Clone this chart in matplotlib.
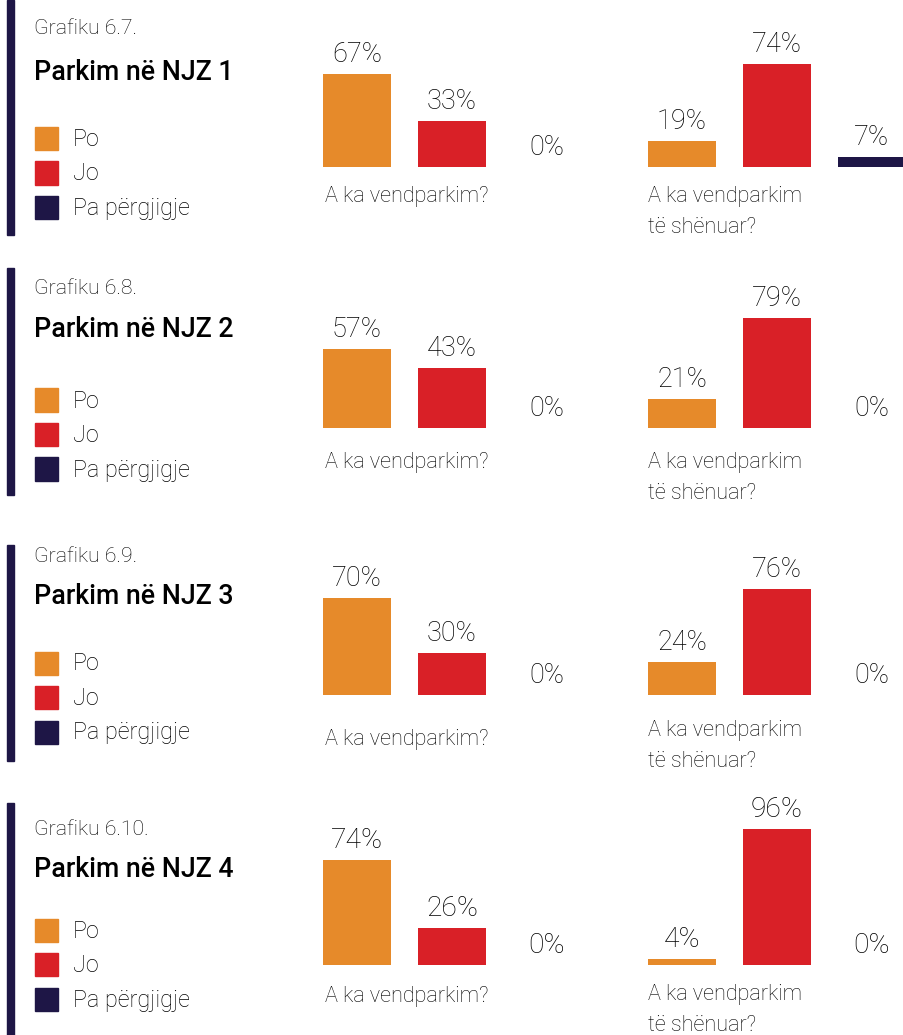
import matplotlib
matplotlib.use("Agg")
import matplotlib.pyplot as plt
from matplotlib.patches import Rectangle

plt.rcParams['font.family'] = ['Roboto', 'DejaVu Sans']

# data
answers = ["Po", "Jo", "Pa përgjigje"]
answer_colors = ["#E68A2A", "#D92027", "#1E1646"]
chart_numbers = ["Grafiku 6.7.", "Grafiku 6.8.", "Grafiku 6.9.", "Grafiku 6.10."]
chart_titles = ["Parkim në NJZ 1", "Parkim në NJZ 2", "Parkim në NJZ 3", "Parkim në NJZ 4"]
q_left = "A ka vendparkim?"
q_right = ["A ka vendparkim", "të shënuar?"]
has_parking = [[67, 33, 0], [57, 43, 0], [70, 30, 0], [74, 26, 0]]
marked_parking = [[19, 74, 7], [21, 79, 0], [24, 76, 0], [4, 96, 0]]

W, H = 904, 1035
fig = plt.figure(figsize=(W / 100, H / 100), dpi=100)

def fx(x):
    return x / W

def fy(y):
    return 1 - y / H

# layout per panel (pixels, from top)
side_bar = [(0, 235), (268, 495), (545, 761), (803, 1035)]
num_y = [34, 294, 562, 835]
title_y = [80, 337, 604, 877]
legend_y = [138.5, 400, 663, 930]
base_y = [167, 428, 695, 965]
px_per_pct = [1.39, 1.39, 1.39, 1.42]
q_left_y = [202, 468, 745, 1002]
q_right_y = [202, 468, 736, 1000]
val_size = [19.5, 19.5, 19.5, 20.3]

text_col = "#000000"


def bar_chart(x0, base, scale, values, fs):
    h = 100 * scale
    ax = fig.add_axes([fx(x0), fy(base), fx(258), h / H])
    ax.set_xlim(-0.358, 2.358)
    ax.set_ylim(0, 100)
    ax.axis("off")
    xs = range(len(values))
    ax.bar(xs, values, width=0.716, color=answer_colors, clip_on=False)
    for i, v in zip(xs, values):
        ax.annotate(f"{v}%", (i, v), xytext=(0, 8.6), textcoords="offset points",
                    ha="center", va="baseline", fontsize=fs, fontweight="light",
                    color=text_col, annotation_clip=False)
    return ax


for p in range(4):
    top, bottom = side_bar[p]
    fig.patches.append(Rectangle((fx(7), fy(bottom)), fx(7), (bottom - top) / H,
                                 transform=fig.transFigure, color="#1E1646"))
    fig.text(fx(34), fy(num_y[p]), chart_numbers[p], fontsize=15.3, fontweight="light",
             color=text_col, va="baseline")
    fig.text(fx(34), fy(title_y[p]), chart_titles[p], fontsize=19.3, fontweight="medium",
             color="#000000", va="baseline")
    for k, (lab, col) in enumerate(zip(answers, answer_colors)):
        cy = legend_y[p] + 34.5 * k
        fig.patches.append(Rectangle((fx(35), fy(cy + 11.5)), fx(23), 23 / H,
                                     transform=fig.transFigure, color=col))
        fig.text(fx(73), fy(cy + 7.5), lab, fontsize=16.8, fontweight="light",
                 color=text_col, va="baseline")

    bar_chart(323, base_y[p], px_per_pct[p], has_parking[p], val_size[p])
    bar_chart(648, base_y[p], px_per_pct[p], marked_parking[p], val_size[p])

    fig.text(fx(325), fy(q_left_y[p]), q_left, fontsize=15.6, fontweight="light",
             color=text_col, va="baseline")
    for j, line in enumerate(q_right):
        fig.text(fx(648), fy(q_right_y[p] + 31 * j), line, fontsize=15.6,
                 fontweight="light", color=text_col, va="baseline")

fig.savefig("out.png", dpi=100)
